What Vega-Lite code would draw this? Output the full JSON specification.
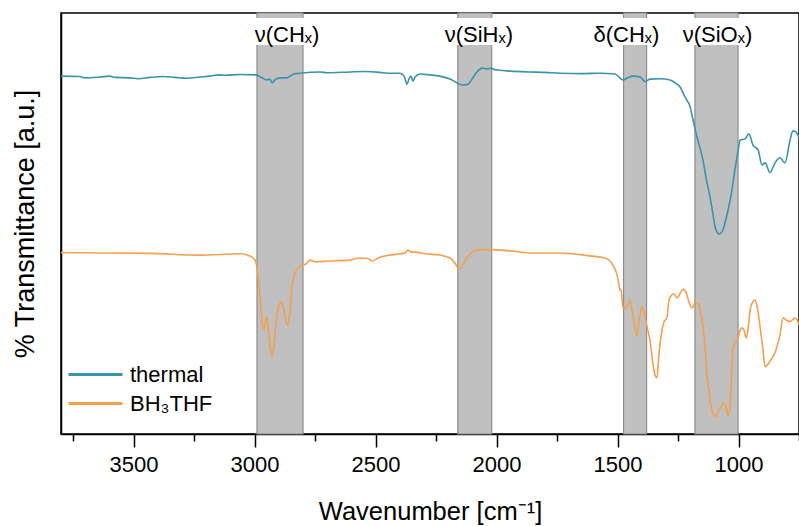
{
  "$schema": "https://vega.github.io/schema/vega-lite/v6.json",
  "width": 738,
  "height": 421,
  "autosize": {"type": "none"},
  "padding": {"left": 61, "top": 13, "right": 0, "bottom": 92},
  "background": "white",
  "config": {
    "font": "Liberation Sans",
    "view": {"stroke": "black", "strokeWidth": 1.5},
    "axis": {"grid": false}
  },
  "resolve": {"axis": {"x": "independent"}},
  "datasets": {
    "bands": [
      {"band": "CH stretch", "wn": 2990, "wn2": 2800},
      {"band": "SiH stretch", "wn": 2160, "wn2": 2020},
      {"band": "CH bend", "wn": 1475, "wn2": 1380},
      {"band": "SiO stretch", "wn": 1180, "wn2": 1002}
    ],
    "labels": [
      {"label": "ν(CHₓ)", "wn": 2866, "left": 3019, "right": 2709},
      {"label": "ν(SiHₓ)", "wn": 2073, "left": 2230, "right": 1915},
      {"label": "δ(CHₓ)", "wn": 1463, "left": 1610, "right": 1316},
      {"label": "ν(SiOₓ)", "wn": 1087, "left": 1250, "right": 924}
    ],
    "spectra": [
      {"s": "thermal", "wn": 3800, "t": 85.0},
      {"s": "thermal", "wn": 3722, "t": 84.9},
      {"s": "thermal", "wn": 3700, "t": 84.6},
      {"s": "thermal", "wn": 3639, "t": 84.8},
      {"s": "thermal", "wn": 3600, "t": 85.0},
      {"s": "thermal", "wn": 3577, "t": 84.7},
      {"s": "thermal", "wn": 3515, "t": 84.6},
      {"s": "thermal", "wn": 3480, "t": 84.4},
      {"s": "thermal", "wn": 3432, "t": 84.7},
      {"s": "thermal", "wn": 3380, "t": 84.9},
      {"s": "thermal", "wn": 3329, "t": 84.7},
      {"s": "thermal", "wn": 3280, "t": 84.5},
      {"s": "thermal", "wn": 3226, "t": 84.8},
      {"s": "thermal", "wn": 3184, "t": 85.0},
      {"s": "thermal", "wn": 3150, "t": 85.3},
      {"s": "thermal", "wn": 3122, "t": 85.2},
      {"s": "thermal", "wn": 3060, "t": 85.4},
      {"s": "thermal", "wn": 2994, "t": 85.3},
      {"s": "thermal", "wn": 2969, "t": 84.6},
      {"s": "thermal", "wn": 2949, "t": 84.1},
      {"s": "thermal", "wn": 2936, "t": 84.3},
      {"s": "thermal", "wn": 2928, "t": 83.4},
      {"s": "thermal", "wn": 2916, "t": 84.1},
      {"s": "thermal", "wn": 2895, "t": 84.6},
      {"s": "thermal", "wn": 2866, "t": 84.6},
      {"s": "thermal", "wn": 2854, "t": 85.0},
      {"s": "thermal", "wn": 2837, "t": 85.5},
      {"s": "thermal", "wn": 2812, "t": 85.7},
      {"s": "thermal", "wn": 2730, "t": 86.0},
      {"s": "thermal", "wn": 2700, "t": 85.8},
      {"s": "thermal", "wn": 2606, "t": 86.0},
      {"s": "thermal", "wn": 2550, "t": 86.1},
      {"s": "thermal", "wn": 2482, "t": 85.9},
      {"s": "thermal", "wn": 2450, "t": 85.7},
      {"s": "thermal", "wn": 2399, "t": 85.7},
      {"s": "thermal", "wn": 2382, "t": 85.0},
      {"s": "thermal", "wn": 2370, "t": 83.1},
      {"s": "thermal", "wn": 2362, "t": 84.3},
      {"s": "thermal", "wn": 2354, "t": 85.0},
      {"s": "thermal", "wn": 2345, "t": 83.8},
      {"s": "thermal", "wn": 2337, "t": 84.8},
      {"s": "thermal", "wn": 2316, "t": 85.5},
      {"s": "thermal", "wn": 2275, "t": 85.3},
      {"s": "thermal", "wn": 2234, "t": 85.0},
      {"s": "thermal", "wn": 2192, "t": 84.3},
      {"s": "thermal", "wn": 2163, "t": 83.4},
      {"s": "thermal", "wn": 2143, "t": 82.9},
      {"s": "thermal", "wn": 2118, "t": 83.1},
      {"s": "thermal", "wn": 2101, "t": 84.3},
      {"s": "thermal", "wn": 2081, "t": 86.0},
      {"s": "thermal", "wn": 2060, "t": 86.9},
      {"s": "thermal", "wn": 2039, "t": 86.7},
      {"s": "thermal", "wn": 2023, "t": 86.9},
      {"s": "thermal", "wn": 2006, "t": 86.5},
      {"s": "thermal", "wn": 1944, "t": 86.2},
      {"s": "thermal", "wn": 1862, "t": 86.0},
      {"s": "thermal", "wn": 1800, "t": 85.9},
      {"s": "thermal", "wn": 1738, "t": 85.7},
      {"s": "thermal", "wn": 1650, "t": 85.6},
      {"s": "thermal", "wn": 1572, "t": 85.7},
      {"s": "thermal", "wn": 1510, "t": 85.5},
      {"s": "thermal", "wn": 1477, "t": 84.1},
      {"s": "thermal", "wn": 1457, "t": 84.6},
      {"s": "thermal", "wn": 1436, "t": 85.0},
      {"s": "thermal", "wn": 1407, "t": 84.8},
      {"s": "thermal", "wn": 1386, "t": 83.7},
      {"s": "thermal", "wn": 1366, "t": 84.3},
      {"s": "thermal", "wn": 1324, "t": 84.4},
      {"s": "thermal", "wn": 1283, "t": 84.1},
      {"s": "thermal", "wn": 1262, "t": 83.4},
      {"s": "thermal", "wn": 1242, "t": 82.5},
      {"s": "thermal", "wn": 1221, "t": 80.0},
      {"s": "thermal", "wn": 1200, "t": 77.7},
      {"s": "thermal", "wn": 1188, "t": 74.6},
      {"s": "thermal", "wn": 1172, "t": 70.6},
      {"s": "thermal", "wn": 1159, "t": 67.9},
      {"s": "thermal", "wn": 1147, "t": 65.1},
      {"s": "thermal", "wn": 1134, "t": 60.8},
      {"s": "thermal", "wn": 1118, "t": 56.4},
      {"s": "thermal", "wn": 1105, "t": 52.0},
      {"s": "thermal", "wn": 1097, "t": 49.2},
      {"s": "thermal", "wn": 1089, "t": 48.0},
      {"s": "thermal", "wn": 1081, "t": 47.5},
      {"s": "thermal", "wn": 1072, "t": 47.7},
      {"s": "thermal", "wn": 1064, "t": 48.5},
      {"s": "thermal", "wn": 1056, "t": 50.1},
      {"s": "thermal", "wn": 1043, "t": 53.2},
      {"s": "thermal", "wn": 1027, "t": 58.0},
      {"s": "thermal", "wn": 1015, "t": 62.7},
      {"s": "thermal", "wn": 1006, "t": 65.9},
      {"s": "thermal", "wn": 998, "t": 68.6},
      {"s": "thermal", "wn": 994, "t": 69.8},
      {"s": "thermal", "wn": 973, "t": 70.1},
      {"s": "thermal", "wn": 957, "t": 71.3},
      {"s": "thermal", "wn": 940, "t": 68.6},
      {"s": "thermal", "wn": 919, "t": 67.5},
      {"s": "thermal", "wn": 903, "t": 63.9},
      {"s": "thermal", "wn": 890, "t": 64.4},
      {"s": "thermal", "wn": 870, "t": 62.1},
      {"s": "thermal", "wn": 849, "t": 64.4},
      {"s": "thermal", "wn": 829, "t": 65.6},
      {"s": "thermal", "wn": 808, "t": 64.4},
      {"s": "thermal", "wn": 787, "t": 69.8},
      {"s": "thermal", "wn": 775, "t": 72.0},
      {"s": "thermal", "wn": 762, "t": 71.7},
      {"s": "thermal", "wn": 750, "t": 70.3},
      {"s": "BH₃THF", "wn": 3800, "t": 43.1},
      {"s": "BH₃THF", "wn": 3639, "t": 43.0},
      {"s": "BH₃THF", "wn": 3432, "t": 42.9},
      {"s": "BH₃THF", "wn": 3226, "t": 42.5},
      {"s": "BH₃THF", "wn": 3060, "t": 42.8},
      {"s": "BH₃THF", "wn": 3019, "t": 42.3},
      {"s": "BH₃THF", "wn": 2998, "t": 41.3},
      {"s": "BH₃THF", "wn": 2986, "t": 37.8},
      {"s": "BH₃THF", "wn": 2978, "t": 33.0},
      {"s": "BH₃THF", "wn": 2969, "t": 26.6},
      {"s": "BH₃THF", "wn": 2961, "t": 24.7},
      {"s": "BH₃THF", "wn": 2953, "t": 27.6},
      {"s": "BH₃THF", "wn": 2949, "t": 27.8},
      {"s": "BH₃THF", "wn": 2945, "t": 25.9},
      {"s": "BH₃THF", "wn": 2936, "t": 21.1},
      {"s": "BH₃THF", "wn": 2928, "t": 18.3},
      {"s": "BH₃THF", "wn": 2920, "t": 21.1},
      {"s": "BH₃THF", "wn": 2907, "t": 28.3},
      {"s": "BH₃THF", "wn": 2895, "t": 31.1},
      {"s": "BH₃THF", "wn": 2887, "t": 31.4},
      {"s": "BH₃THF", "wn": 2878, "t": 29.0},
      {"s": "BH₃THF", "wn": 2870, "t": 26.6},
      {"s": "BH₃THF", "wn": 2862, "t": 25.9},
      {"s": "BH₃THF", "wn": 2854, "t": 29.0},
      {"s": "BH₃THF", "wn": 2845, "t": 35.4},
      {"s": "BH₃THF", "wn": 2833, "t": 38.0},
      {"s": "BH₃THF", "wn": 2821, "t": 39.4},
      {"s": "BH₃THF", "wn": 2804, "t": 40.1},
      {"s": "BH₃THF", "wn": 2787, "t": 40.4},
      {"s": "BH₃THF", "wn": 2771, "t": 41.3},
      {"s": "BH₃THF", "wn": 2750, "t": 40.9},
      {"s": "BH₃THF", "wn": 2688, "t": 41.1},
      {"s": "BH₃THF", "wn": 2606, "t": 41.3},
      {"s": "BH₃THF", "wn": 2564, "t": 41.8},
      {"s": "BH₃THF", "wn": 2531, "t": 41.7},
      {"s": "BH₃THF", "wn": 2515, "t": 41.1},
      {"s": "BH₃THF", "wn": 2490, "t": 41.8},
      {"s": "BH₃THF", "wn": 2440, "t": 42.5},
      {"s": "BH₃THF", "wn": 2399, "t": 42.8},
      {"s": "BH₃THF", "wn": 2378, "t": 43.0},
      {"s": "BH₃THF", "wn": 2366, "t": 43.7},
      {"s": "BH₃THF", "wn": 2354, "t": 43.2},
      {"s": "BH₃THF", "wn": 2337, "t": 43.2},
      {"s": "BH₃THF", "wn": 2296, "t": 42.8},
      {"s": "BH₃THF", "wn": 2234, "t": 42.5},
      {"s": "BH₃THF", "wn": 2192, "t": 41.8},
      {"s": "BH₃THF", "wn": 2172, "t": 40.6},
      {"s": "BH₃THF", "wn": 2155, "t": 39.2},
      {"s": "BH₃THF", "wn": 2139, "t": 40.1},
      {"s": "BH₃THF", "wn": 2122, "t": 41.8},
      {"s": "BH₃THF", "wn": 2101, "t": 43.2},
      {"s": "BH₃THF", "wn": 2068, "t": 43.8},
      {"s": "BH₃THF", "wn": 2027, "t": 43.8},
      {"s": "BH₃THF", "wn": 1944, "t": 43.5},
      {"s": "BH₃THF", "wn": 1862, "t": 43.0},
      {"s": "BH₃THF", "wn": 1738, "t": 43.0},
      {"s": "BH₃THF", "wn": 1614, "t": 42.3},
      {"s": "BH₃THF", "wn": 1552, "t": 41.8},
      {"s": "BH₃THF", "wn": 1531, "t": 41.1},
      {"s": "BH₃THF", "wn": 1515, "t": 39.7},
      {"s": "BH₃THF", "wn": 1502, "t": 37.8},
      {"s": "BH₃THF", "wn": 1494, "t": 35.4},
      {"s": "BH₃THF", "wn": 1490, "t": 34.2},
      {"s": "BH₃THF", "wn": 1486, "t": 34.4},
      {"s": "BH₃THF", "wn": 1477, "t": 29.9},
      {"s": "BH₃THF", "wn": 1469, "t": 29.9},
      {"s": "BH₃THF", "wn": 1461, "t": 30.2},
      {"s": "BH₃THF", "wn": 1448, "t": 31.7},
      {"s": "BH₃THF", "wn": 1440, "t": 29.5},
      {"s": "BH₃THF", "wn": 1428, "t": 25.2},
      {"s": "BH₃THF", "wn": 1420, "t": 23.3},
      {"s": "BH₃THF", "wn": 1411, "t": 26.6},
      {"s": "BH₃THF", "wn": 1399, "t": 30.4},
      {"s": "BH₃THF", "wn": 1391, "t": 29.0},
      {"s": "BH₃THF", "wn": 1378, "t": 25.5},
      {"s": "BH₃THF", "wn": 1366, "t": 22.3},
      {"s": "BH₃THF", "wn": 1353, "t": 16.4},
      {"s": "BH₃THF", "wn": 1345, "t": 14.0},
      {"s": "BH₃THF", "wn": 1337, "t": 13.3},
      {"s": "BH₃THF", "wn": 1329, "t": 18.8},
      {"s": "BH₃THF", "wn": 1316, "t": 24.7},
      {"s": "BH₃THF", "wn": 1308, "t": 26.6},
      {"s": "BH₃THF", "wn": 1296, "t": 27.6},
      {"s": "BH₃THF", "wn": 1287, "t": 31.8},
      {"s": "BH₃THF", "wn": 1279, "t": 32.8},
      {"s": "BH₃THF", "wn": 1267, "t": 33.3},
      {"s": "BH₃THF", "wn": 1254, "t": 32.3},
      {"s": "BH₃THF", "wn": 1242, "t": 33.3},
      {"s": "BH₃THF", "wn": 1229, "t": 34.4},
      {"s": "BH₃THF", "wn": 1217, "t": 33.7},
      {"s": "BH₃THF", "wn": 1205, "t": 31.4},
      {"s": "BH₃THF", "wn": 1192, "t": 29.9},
      {"s": "BH₃THF", "wn": 1180, "t": 31.1},
      {"s": "BH₃THF", "wn": 1167, "t": 31.1},
      {"s": "BH₃THF", "wn": 1159, "t": 29.5},
      {"s": "BH₃THF", "wn": 1151, "t": 27.1},
      {"s": "BH₃THF", "wn": 1139, "t": 21.1},
      {"s": "BH₃THF", "wn": 1130, "t": 13.6},
      {"s": "BH₃THF", "wn": 1122, "t": 10.5},
      {"s": "BH₃THF", "wn": 1114, "t": 6.9},
      {"s": "BH₃THF", "wn": 1105, "t": 4.8},
      {"s": "BH₃THF", "wn": 1097, "t": 4.1},
      {"s": "BH₃THF", "wn": 1089, "t": 4.8},
      {"s": "BH₃THF", "wn": 1081, "t": 5.7},
      {"s": "BH₃THF", "wn": 1072, "t": 6.4},
      {"s": "BH₃THF", "wn": 1064, "t": 7.4},
      {"s": "BH₃THF", "wn": 1056, "t": 6.9},
      {"s": "BH₃THF", "wn": 1048, "t": 5.7},
      {"s": "BH₃THF", "wn": 1043, "t": 4.3},
      {"s": "BH₃THF", "wn": 1035, "t": 6.9},
      {"s": "BH₃THF", "wn": 1023, "t": 20.0},
      {"s": "BH₃THF", "wn": 1015, "t": 21.9},
      {"s": "BH₃THF", "wn": 1002, "t": 22.6},
      {"s": "BH₃THF", "wn": 994, "t": 24.5},
      {"s": "BH₃THF", "wn": 986, "t": 25.2},
      {"s": "BH₃THF", "wn": 977, "t": 24.7},
      {"s": "BH₃THF", "wn": 969, "t": 22.8},
      {"s": "BH₃THF", "wn": 961, "t": 24.7},
      {"s": "BH₃THF", "wn": 953, "t": 29.0},
      {"s": "BH₃THF", "wn": 944, "t": 31.1},
      {"s": "BH₃THF", "wn": 932, "t": 31.8},
      {"s": "BH₃THF", "wn": 924, "t": 30.6},
      {"s": "BH₃THF", "wn": 911, "t": 25.5},
      {"s": "BH₃THF", "wn": 899, "t": 20.0},
      {"s": "BH₃THF", "wn": 890, "t": 16.0},
      {"s": "BH₃THF", "wn": 878, "t": 16.6},
      {"s": "BH₃THF", "wn": 866, "t": 17.6},
      {"s": "BH₃THF", "wn": 857, "t": 18.4},
      {"s": "BH₃THF", "wn": 845, "t": 20.0},
      {"s": "BH₃THF", "wn": 837, "t": 21.6},
      {"s": "BH₃THF", "wn": 829, "t": 23.5},
      {"s": "BH₃THF", "wn": 816, "t": 27.6},
      {"s": "BH₃THF", "wn": 804, "t": 27.1},
      {"s": "BH₃THF", "wn": 787, "t": 26.7},
      {"s": "BH₃THF", "wn": 766, "t": 27.6},
      {"s": "BH₃THF", "wn": 758, "t": 27.1},
      {"s": "BH₃THF", "wn": 750, "t": 25.9}
    ]
  },
  "layer": [
    {
      "data": {"name": "bands"},
      "mark": {"type": "rect", "fill": "#c0c0c0", "stroke": "#8c8c8c", "strokeWidth": 1.2},
      "encoding": {
        "x": {
          "field": "wn", "type": "quantitative",
          "scale": {"domain": [750, 3800], "reverse": true, "nice": false, "zero": false},
          "axis": {
            "orient": "bottom", "title": null, "labels": false, "domain": false,
            "values": [3750, 3250, 2750, 2250, 1750, 1250, 750],
            "tickSize": 7, "tickColor": "black", "tickWidth": 1.5
          }
        },
        "x2": {"field": "wn2"}
      }
    },
    {
      "data": {"name": "labels"},
      "mark": {"type": "rect", "fill": "white"},
      "encoding": {
        "x": {"field": "left", "type": "quantitative", "scale": {"domain": [750, 3800], "reverse": true, "nice": false, "zero": false}, "axis": null},
        "x2": {"field": "right"},
        "y": {"datum": 92.4, "type": "quantitative", "scale": {"domain": [0, 100], "nice": false, "zero": false}},
        "y2": {"datum": 98.8}
      }
    },
    {
      "data": {"name": "spectra"},
      "mark": {"type": "line", "strokeWidth": 1.6, "interpolate": "monotone"},
      "encoding": {
        "x": {
          "field": "wn", "type": "quantitative",
          "scale": {"domain": [750, 3800], "reverse": true, "nice": false, "zero": false},
          "axis": {
            "orient": "bottom",
            "title": "Wavenumber [cm⁻¹]",
            "values": [3500, 3000, 2500, 2000, 1500, 1000],
            "format": "d",
            "labelFlush": false,
            "labelOverlap": false,
            "tickSize": 13,
            "tickColor": "black", "tickWidth": 1.5,
            "domainColor": "black", "domainWidth": 1.5,
            "labelFontSize": 22, "labelColor": "black", "labelPadding": 7,
            "titleFontSize": 25.5, "titleFontWeight": "normal", "titleColor": "black", "titlePadding": 24
          }
        },
        "y": {
          "field": "t", "type": "quantitative",
          "scale": {"domain": [0, 100], "nice": false, "zero": false},
          "axis": {
            "title": "% Transmittance [a.u.]",
            "ticks": false, "labels": false,
            "domainColor": "black", "domainWidth": 1.5,
            "titleFontSize": 27, "titleFontWeight": "normal", "titleColor": "black", "titlePadding": 22
          }
        },
        "color": {
          "field": "s", "type": "nominal",
          "scale": {"domain": ["thermal", "BH₃THF"], "range": ["#3a92ab", "#f4a04f"]},
          "legend": {
            "title": null, "orient": "none", "legendX": 23, "legendY": 350,
            "symbolType": "M-2.7,0H2.7", "symbolSize": 400, "symbolStrokeWidth": 3,
            "labelFontSize": 22, "labelColor": "black", "labelOffset": 23, "rowPadding": 6
          }
        }
      }
    },
    {
      "data": {"name": "labels"},
      "mark": {"type": "text", "fontSize": 22, "color": "black", "align": "center", "baseline": "alphabetic"},
      "encoding": {
        "x": {"field": "wn", "type": "quantitative", "scale": {"domain": [750, 3800], "reverse": true, "nice": false, "zero": false}, "axis": null},
        "y": {"datum": 93.1, "type": "quantitative", "scale": {"domain": [0, 100], "nice": false, "zero": false}},
        "text": {"field": "label"}
      }
    }
  ]
}
